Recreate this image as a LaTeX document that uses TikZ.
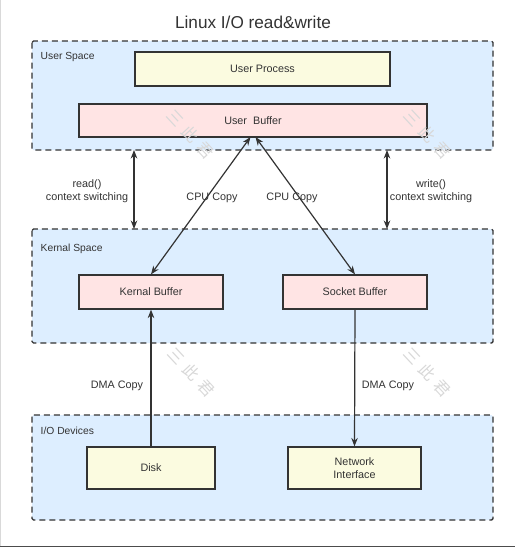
\documentclass[tikz,border=0pt]{standalone}
\usepackage{fontspec}
\setmainfont{Liberation Sans}
\newfontfamily\cjk{Noto Sans CJK SC}
\usetikzlibrary{arrows.meta}
\definecolor{ink}{HTML}{333333}
\definecolor{zonefill}{HTML}{DDEEFF}
\definecolor{yellowfill}{HTML}{FBFBE0}
\definecolor{pinkfill}{HTML}{FFE4E4}
\definecolor{markgray}{HTML}{D8D8D8}
\begin{document}
\begin{tikzpicture}[x=1pt,y=-1pt,
  zone/.style={draw=ink, fill=zonefill, line width=1.4pt, dash pattern=on 6pt off 4pt, rounded corners=1.5pt},
  zonelabel/.style={anchor=west, text=ink, font=\fontsize{10.3}{12}\selectfont, inner sep=0pt},
  yellowbox/.style={draw=ink, fill=yellowfill, line width=1.2pt, text=ink, font=\fontsize{10.8}{13}\selectfont, align=center},
  pinkbox/.style={draw=ink, fill=pinkfill, line width=1.2pt, text=ink, font=\fontsize{10.8}{13}\selectfont},
  link/.style={draw=ink, line width=1.2pt},
  tip/.style={-{Stealth[length=8.5pt,width=6.5pt]}},
  dtip/.style={{Stealth[length=8.5pt,width=6.5pt]}-{Stealth[length=8.5pt,width=6.5pt]}},
  lbl/.style={text=ink, font=\fontsize{10.8}{13}\selectfont, align=center, inner sep=0pt},
  wmark/.style={text=markgray, font=\cjk\fontsize{16}{16}\selectfont, rotate=-47, inner sep=0pt}
]
\useasboundingbox (0,0) rectangle (515,549);
\fill[white] (0,0) rectangle (515,549);
% frame edges
\draw[black!15, line width=0.8pt] (0.5,0) -- (0.5,546);
\draw[black!70, line width=1.6pt] (0,546.5) -- (515,546.5);

% title
\node[text=ink, font=\fontsize{17.2}{19}\selectfont] (title) at (253,22) {Linux I/O read\&write};

% the three layers
\draw[zone] (32,41) rectangle (493,150);
\draw[zone] (32,229) rectangle (493,343);
\draw[zone] (32,415) rectangle (493,520);
\node[zonelabel] (lus) at (40.5,57) {User Space};
\node[zonelabel] (lks) at (40.5,249) {Kernal Space};
\node[zonelabel] (lio) at (40.5,431) {I/O Devices};

% buffers and devices
\node[yellowbox, minimum width=255pt, minimum height=34pt] (proc) at (262.5,69) {User Process};
\node[pinkbox, minimum width=348pt, minimum height=33pt] (ubuf) at (253,120.5) {User\hspace{6pt}Buffer};
\node[pinkbox, minimum width=144pt, minimum height=34pt] (kbuf) at (151,292) {Kernal Buffer};
\node[pinkbox, minimum width=144pt, minimum height=34pt] (sbuf) at (355,292) {Socket Buffer};
\node[yellowbox, minimum width=128pt, minimum height=42pt] (disk) at (151,468) {Disk};
\node[yellowbox, minimum width=133pt, minimum height=42pt] (nic) at (354.5,468) {Network\\Interface};

% context switching arrows between the layers
\coordinate (rtop) at (134,150);
\coordinate (rbot) at (134,229);
\coordinate (wtop) at (387,150);
\coordinate (wbot) at (387,229);
\draw[link, dtip] (rtop) -- (rbot);
\draw[link, dtip] (wtop) -- (wbot);
\node[lbl] (rlab) at (87,191.5) {read()\\context switching};
\node[lbl] (wlab) at (431,191.5) {write()\\context switching};

% CPU copies
\coordinate (ul) at (250.5,137);
\coordinate (ur) at (255.5,137);
\node[lbl] (c1) at (212,198) {CPU Copy};
\node[lbl] (c2) at (292,198) {CPU Copy};
\draw[link, dtip] (ul) -- (kbuf.north);
\draw[link, dtip] (ur) -- (sbuf.north);

% DMA copies
\draw[link, tip] (disk.north) -- (kbuf.south);
\draw[link, tip] (sbuf.south) -- (nic.north);
\node[lbl] (d1) at (117,386) {DMA Copy};
\node[lbl] (d2) at (388,386) {DMA Copy};

% watermarks on top
\node[wmark] (wm1) at (190,134) {三\hspace{6pt}此\hspace{6pt}君};
\node[wmark] (wm2) at (427,134) {三\hspace{6pt}此\hspace{6pt}君};
\node[wmark] (wm3) at (191,372) {三\hspace{6pt}此\hspace{6pt}君};
\node[wmark] (wm4) at (427,372) {三\hspace{6pt}此\hspace{6pt}君};
\end{tikzpicture}
\end{document}
